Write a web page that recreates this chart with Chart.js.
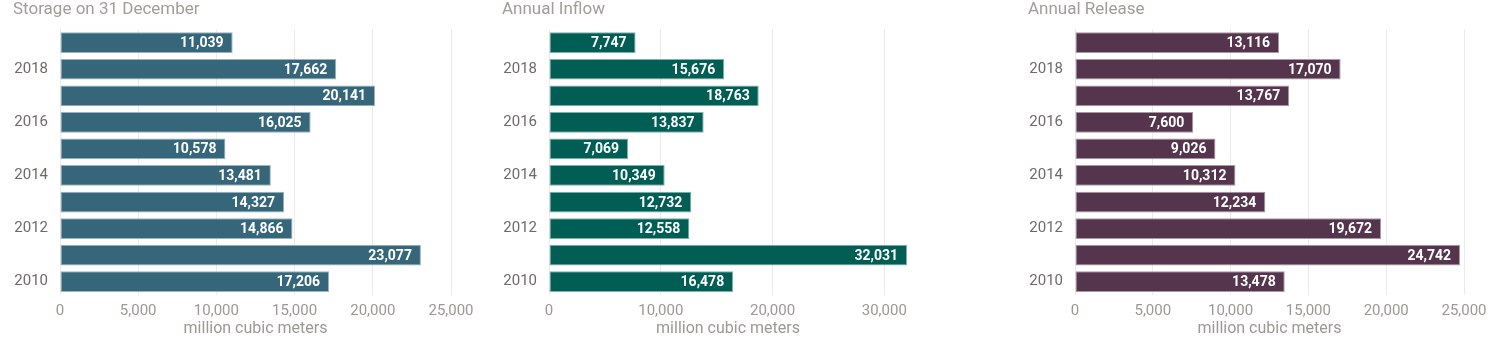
<!DOCTYPE html>
<html lang="en">
<head>
  <meta charset="UTF-8">
  <title>Reservoir Storage, Inflow and Release</title>
  <script src="https://cdn.jsdelivr.net/npm/chart.js"></script>
  <style>
    body {
      margin: 0;
      background: #ffffff;
      width: 1501px;
      height: 340px;
      position: relative;
      overflow: hidden;
    }
    .panel {
      position: absolute;
      top: 0;
      height: 340px;
    }
    #storageBox { left: 0; width: 490px; }
    #inflowBox { left: 490px; width: 520px; }
    #releaseBox { left: 1010px; width: 491px; }
  </style>
</head>
<body>
  <div class="panel" id="storageBox"><canvas id="storageChart"></canvas></div>
  <div class="panel" id="inflowBox"><canvas id="inflowChart"></canvas></div>
  <div class="panel" id="releaseBox"><canvas id="releaseChart"></canvas></div>

  <script>
    // years, newest on top
    const years = ['2019', '2018', '2017', '2016', '2015', '2014', '2013', '2012', '2011', '2010'];

    // million cubic meters
    const storage = [11039, 17662, 20141, 16025, 10578, 13481, 14327, 14866, 23077, 17206];
    const inflow = [7747, 15676, 18763, 13837, 7069, 10349, 12732, 12558, 32031, 16478];
    const release = [13116, 17070, 13767, 7600, 9026, 10312, 12234, 19672, 24742, 13478];

    // x axis ticks per panel
    const storageTicks = [0, 5000, 10000, 15000, 20000, 25000];
    const inflowTicks = [0, 10000, 20000, 30000];
    const releaseTicks = [0, 5000, 10000, 15000, 20000, 25000];

    const unitLabel = 'million cubic meters';
    const fontFamily = 'Roboto, "Noto Sans", sans-serif';

    // writes the value inside the end of each bar
    const valueLabels = {
      id: 'valueLabels',
      afterDatasetsDraw(chart) {
        const ctx = chart.ctx;
        const meta = chart.getDatasetMeta(0);
        const values = chart.data.datasets[0].data;
        ctx.save();
        ctx.font = 'bold 14px ' + fontFamily;
        ctx.fillStyle = '#ffffff';
        ctx.textAlign = 'right';
        ctx.textBaseline = 'middle';
        meta.data.forEach((bar, i) => {
          ctx.fillText(values[i].toLocaleString('en-US'), bar.x - 9, bar.y + 1);
        });
        ctx.restore();
      }
    };

    function makeChart(id, title, values, color, border, axisMax, tickValues, padLeft, padRight) {
      return new Chart(document.getElementById(id), {
        type: 'bar',
        data: {
          labels: years,
          datasets: [{
            data: values,
            backgroundColor: color,
            borderColor: border,
            borderWidth: 1,
            borderSkipped: false,
            barPercentage: 0.78,
            categoryPercentage: 1
          }]
        },
        options: {
          indexAxis: 'y',
          responsive: true,
          maintainAspectRatio: false,
          animation: false,
          layout: {
            padding: { left: padLeft, right: padRight, top: 0, bottom: 0 }
          },
          plugins: {
            legend: { display: false },
            tooltip: { enabled: false },
            title: {
              display: true,
              text: title,
              align: 'start',
              color: '#a19d99',
              font: { family: fontFamily, size: 17, weight: 'normal' },
              padding: { top: 0, bottom: 9 }
            }
          },
          scales: {
            x: {
              min: 0,
              max: axisMax,
              border: { display: false },
              grid: { color: '#ebebeb', drawTicks: false },
              afterFit: (scale) => { scale.height = 45; },
              afterBuildTicks: (scale) => {
                scale.ticks = tickValues.map((v) => ({ value: v }));
              },
              ticks: {
                padding: 7,
                color: '#9c9894',
                font: { family: fontFamily, size: 15 },
                callback: (v) => v.toLocaleString('en-US')
              },
              title: {
                display: true,
                text: unitLabel,
                color: '#9c9894',
                font: { family: fontFamily, size: 16 },
                padding: { top: 0, bottom: 1 }
              }
            },
            y: {
              border: { display: false },
              grid: { display: false, drawTicks: false },
              afterFit: (scale) => { scale.width = 47; },
              ticks: {
                padding: 12,
                autoSkip: false,
                color: '#6e6a67',
                font: { family: fontFamily, size: 15 },
                callback: function (v) {
                  const year = this.getLabelForValue(v);
                  return Number(year) % 2 === 0 ? year : '';
                }
              }
            }
          }
        },
        plugins: [valueLabels]
      });
    }

    makeChart('storageChart', 'Storage on 31 December', storage, '#35667a', '#9ab3bd', 25000, storageTicks, 13, 39);
    makeChart('inflowChart', 'Annual Inflow', inflow, '#005e55', '#80b0aa', 32031, inflowTicks, 12, 103);
    makeChart('releaseChart', 'Annual Release', release, '#54354d', '#a9989f', 25000, releaseTicks, 18, 37);
  </script>
</body>
</html>
